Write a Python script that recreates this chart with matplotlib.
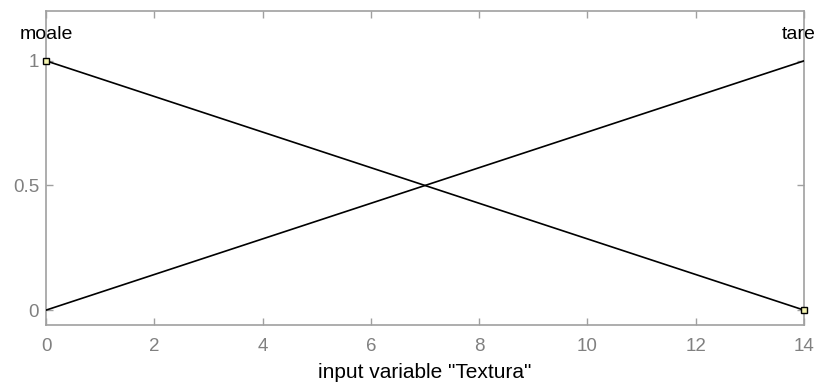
import matplotlib
matplotlib.use("Agg")
import matplotlib.pyplot as plt

# membership functions of the input "Textura"
x_range = [0, 14]
mf_names = ["moale", "tare"]
mf_x = [[0, 14], [0, 14]]
mf_y = [[1, 0], [0, 1]]
xticks = [0, 2, 4, 6, 8, 10, 12, 14]
yticks = [0, 0.5, 1]
ytick_labels = ["0", "0.5", "1"]

plt.rcParams["font.family"] = ["Liberation Sans", "DejaVu Sans"]

fig = plt.figure(figsize=(8.19, 3.87), dpi=100)
ax = fig.add_axes([0.0562, 0.160, 0.9255, 0.8116])

for xs, ys in zip(mf_x, mf_y):
    ax.plot(xs, ys, color="black", linewidth=1.2, zorder=3)

# small square handles where each mf reaches its peak/foot on the edge
ax.plot([mf_x[0][0]], [mf_y[0][0]], marker="s", markersize=4, markerfacecolor="#f4f4b0",
        markeredgecolor="black", markeredgewidth=1, zorder=4, clip_on=False)
ax.plot([mf_x[0][1]], [mf_y[0][1]], marker="s", markersize=4, markerfacecolor="#f4f4b0",
        markeredgecolor="black", markeredgewidth=1, zorder=4, clip_on=False)

# mf names above the peaks, nudged inwards so they stay inside the figure
nudge = [0, -4]
for xs, ys, name, dx in zip(mf_x, mf_y, mf_names, nudge):
    peak = xs[ys.index(max(ys))]
    ax.annotate(name, (peak, 1.105), xytext=(dx, 0), textcoords="offset points",
                ha="center", va="center", fontsize=14, color="black",
                annotation_clip=False)

ax.set_xlim(x_range)
ax.set_ylim(-0.06, 1.2)
ax.set_xticks(xticks)
ax.set_yticks(yticks)
ax.set_yticklabels(ytick_labels)
ax.tick_params(direction="in", length=5, width=1, color="#a0a0a0", labelcolor="#808080",
               labelsize=13.5, top=True, right=True, pad=5)
ax.tick_params(axis="x", pad=9)
for s in ax.spines.values():
    s.set_color("#a0a0a0")
    s.set_linewidth(1.2)

ax.set_xlabel('input variable "Textura"', fontsize=15, color="black", labelpad=6)

fig.savefig("out.png", dpi=100)
